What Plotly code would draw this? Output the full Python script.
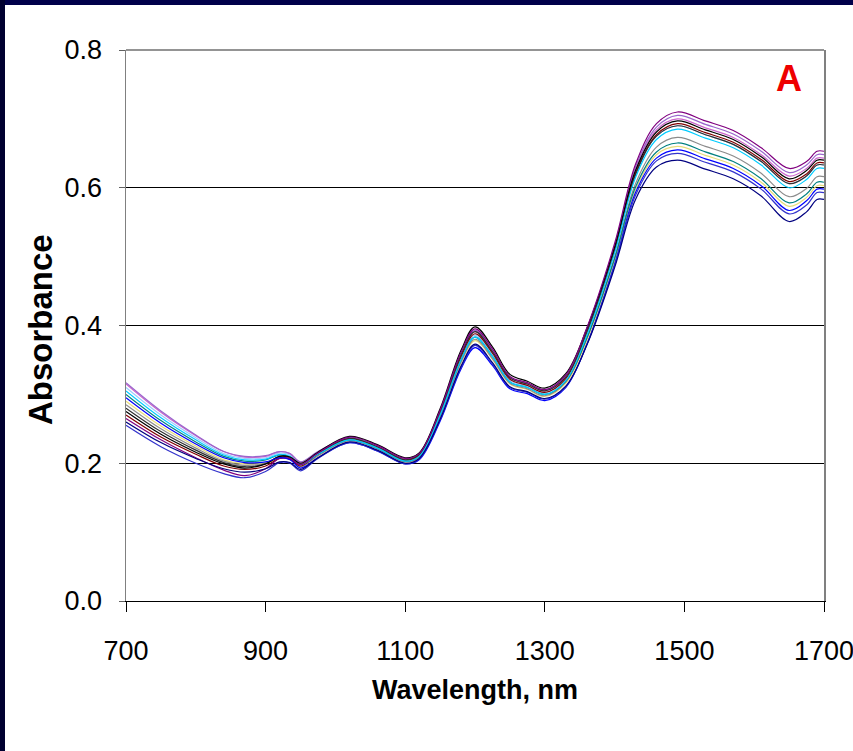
import plotly.graph_objects as go

wavelength = [700, 750, 800, 840, 870, 900, 920, 935, 950, 975, 1020, 1060, 1100, 1120, 1150,
              1180, 1200, 1225, 1250, 1275, 1300, 1330, 1360, 1400, 1430, 1460, 1490, 1530,
              1570, 1610, 1650, 1675, 1690, 1700]

s_purple = [0.265, 0.234, 0.208, 0.190, 0.182, 0.192, 0.207, 0.207, 0.198, 0.215, 0.238, 0.226, 0.207, 0.214, 0.277,
            0.361, 0.395, 0.366, 0.326, 0.317, 0.307, 0.328, 0.396, 0.519, 0.634, 0.693, 0.710, 0.697,
            0.683, 0.658, 0.628, 0.638, 0.653, 0.653]
s_black = [0.275, 0.242, 0.216, 0.199, 0.193, 0.199, 0.210, 0.209, 0.200, 0.216, 0.239, 0.227, 0.208, 0.215, 0.279,
           0.364, 0.398, 0.369, 0.329, 0.319, 0.309, 0.330, 0.395, 0.514, 0.625, 0.681, 0.697, 0.684,
           0.670, 0.645, 0.613, 0.625, 0.640, 0.640]
s_navy = [0.260, 0.230, 0.207, 0.192, 0.187, 0.192, 0.202, 0.201, 0.191, 0.208, 0.231, 0.219, 0.200, 0.207, 0.264,
          0.341, 0.373, 0.346, 0.311, 0.304, 0.294, 0.312, 0.371, 0.484, 0.583, 0.630, 0.640, 0.627,
          0.613, 0.588, 0.551, 0.565, 0.583, 0.583]
s_blue = [0.295, 0.258, 0.228, 0.208, 0.201, 0.202, 0.208, 0.205, 0.193, 0.208, 0.230, 0.218, 0.199, 0.205, 0.261,
          0.337, 0.368, 0.342, 0.308, 0.301, 0.291, 0.310, 0.372, 0.489, 0.593, 0.643, 0.655, 0.642,
          0.628, 0.603, 0.567, 0.581, 0.598, 0.598]
s_cyan = [0.305, 0.266, 0.234, 0.212, 0.205, 0.206, 0.213, 0.210, 0.198, 0.213, 0.234, 0.222, 0.203, 0.210, 0.270,
          0.350, 0.383, 0.355, 0.318, 0.310, 0.300, 0.320, 0.385, 0.505, 0.615, 0.670, 0.685, 0.672,
          0.658, 0.633, 0.600, 0.612, 0.628, 0.628]
s_yellow = [0.290, 0.254, 0.225, 0.205, 0.199, 0.201, 0.209, 0.207, 0.195, 0.211, 0.233, 0.221, 0.202, 0.208, 0.267,
            0.346, 0.378, 0.351, 0.315, 0.307, 0.297, 0.316, 0.378, 0.494, 0.597, 0.648, 0.660, 0.647,
            0.633, 0.608, 0.573, 0.586, 0.603, 0.603]
s_maroon = [0.270, 0.238, 0.213, 0.196, 0.191, 0.196, 0.207, 0.206, 0.196, 0.213, 0.236, 0.224, 0.205, 0.212, 0.273,
            0.355, 0.388, 0.360, 0.322, 0.313, 0.303, 0.323, 0.389, 0.510, 0.621, 0.677, 0.693, 0.680,
            0.666, 0.641, 0.609, 0.620, 0.636, 0.636]
s_teal = [0.300, 0.262, 0.231, 0.210, 0.203, 0.205, 0.212, 0.209, 0.198, 0.213, 0.234, 0.222, 0.203, 0.210, 0.270,
          0.350, 0.383, 0.355, 0.318, 0.310, 0.300, 0.319, 0.381, 0.497, 0.601, 0.652, 0.665, 0.652,
          0.638, 0.613, 0.578, 0.591, 0.608, 0.608]
s_pink = [0.315, 0.274, 0.240, 0.217, 0.209, 0.210, 0.217, 0.214, 0.201, 0.216, 0.236, 0.224, 0.205, 0.213, 0.275,
          0.357, 0.391, 0.362, 0.324, 0.315, 0.305, 0.326, 0.392, 0.513, 0.626, 0.684, 0.700, 0.687,
          0.673, 0.648, 0.617, 0.628, 0.643, 0.643]
s_gray = [0.285, 0.250, 0.222, 0.203, 0.197, 0.200, 0.208, 0.206, 0.195, 0.211, 0.233, 0.221, 0.202, 0.209, 0.268,
          0.347, 0.380, 0.352, 0.316, 0.308, 0.298, 0.318, 0.381, 0.499, 0.606, 0.659, 0.673, 0.660,
          0.646, 0.621, 0.587, 0.599, 0.616, 0.616]
s_lightblue = [0.310, 0.270, 0.237, 0.214, 0.207, 0.208, 0.215, 0.212, 0.199, 0.214, 0.235, 0.223, 0.204, 0.211, 0.272,
               0.353, 0.386, 0.358, 0.320, 0.312, 0.302, 0.322, 0.388, 0.508, 0.619, 0.675, 0.690, 0.677,
               0.663, 0.638, 0.606, 0.617, 0.633, 0.633]
s_darkblue = [0.255, 0.224, 0.200, 0.185, 0.179, 0.188, 0.201, 0.200, 0.189, 0.207, 0.230, 0.218, 0.199, 0.206, 0.263,
              0.339, 0.371, 0.344, 0.310, 0.303, 0.293, 0.311, 0.372, 0.487, 0.589, 0.639, 0.650, 0.637,
              0.623, 0.598, 0.562, 0.575, 0.593, 0.593]
s_violet = [0.317, 0.276, 0.241, 0.217, 0.210, 0.211, 0.217, 0.214, 0.202, 0.217, 0.237, 0.225, 0.206, 0.214, 0.276,
            0.359, 0.393, 0.364, 0.325, 0.316, 0.306, 0.327, 0.394, 0.516, 0.630, 0.688, 0.705, 0.692,
            0.678, 0.653, 0.622, 0.633, 0.648, 0.648]
s_darkgray = [0.280, 0.246, 0.219, 0.201, 0.195, 0.199, 0.210, 0.208, 0.198, 0.214, 0.236, 0.224, 0.205, 0.213, 0.275,
              0.357, 0.391, 0.362, 0.324, 0.315, 0.305, 0.325, 0.390, 0.509, 0.619, 0.675, 0.690, 0.677,
              0.663, 0.638, 0.606, 0.617, 0.633, 0.633]

series = [
    ("s_yellow", s_yellow, "#E8DC7A"),
    ("s_lightblue", s_lightblue, "#99CCFF"),
    ("s_pink", s_pink, "#CC66CC"),
    ("s_gray", s_gray, "#8C8C8C"),
    ("s_teal", s_teal, "#008080"),
    ("s_maroon", s_maroon, "#800000"),
    ("s_violet", s_violet, "#9966CC"),
    ("s_darkgray", s_darkgray, "#303030"),
    ("s_cyan", s_cyan, "#00CCFF"),
    ("s_black", s_black, "#000000"),
    ("s_purple", s_purple, "#800080"),
    ("s_blue", s_blue, "#0000FF"),
    ("s_darkblue", s_darkblue, "#3333CC"),
    ("s_navy", s_navy, "#000080"),
]

x_ticks = [700, 900, 1100, 1300, 1500, 1700]
y_ticks = [0.0, 0.2, 0.4, 0.6, 0.8]

fig = go.Figure()
for name, vals, col in series:
    fig.add_trace(go.Scatter(x=wavelength, y=vals, mode="lines", name=name,
                             line=dict(color=col, width=1.2, shape="spline", smoothing=1.0),
                             showlegend=False, hoverinfo="skip"))

L, R, T, B = 126, 29, 50, 150
W, H = 853, 751
pw, ph = W - L - R, H - T - B

def px(xp):
    return (xp - L) / pw

def py(yp):
    return (H - B - yp) / ph

sans = "Liberation Sans, Arial, sans-serif"

fig.update_layout(
    width=W, height=H,
    margin=dict(l=L, r=R, t=T, b=B, pad=0, autoexpand=False),
    paper_bgcolor="white", plot_bgcolor="white",
    xaxis=dict(range=[700, 1700], tickvals=x_ticks, ticktext=[str(v) for v in x_ticks],
               showgrid=False, zeroline=False, showline=True, linecolor="black", linewidth=1,
               ticks="outside", ticklen=10, tickcolor="black", tickwidth=1, automargin=False,
               tickfont=dict(family=sans, size=27, color="black"), ticklabelstandoff=16,
               ticklabeloverflow="allow"),
    yaxis=dict(range=[0, 0.8], tickvals=y_ticks, ticktext=["%.1f" % v for v in y_ticks],
               showgrid=True, gridcolor="black", gridwidth=1, zeroline=False, automargin=False,
               showline=True, linecolor="#808080", linewidth=1.5, mirror=True,
               ticks="outside", ticklen=6, tickcolor="#606060", tickwidth=1,
               tickfont=dict(family=sans, size=27, color="black"), ticklabelstandoff=11,
               ticklabeloverflow="allow"),
    shapes=[
        dict(type="line", xref="paper", yref="paper", x0=0, x1=1, y0=1, y1=1,
             line=dict(color="#707070", width=1.5)),
        dict(type="rect", xref="paper", yref="paper", x0=px(0), x1=px(W), y0=py(0), y1=py(5),
             fillcolor="#00004a", line=dict(width=0), layer="above"),
        dict(type="rect", xref="paper", yref="paper", x0=px(0), x1=px(5), y0=py(H), y1=py(0),
             fillcolor="#000030", line=dict(width=0), layer="above"),
    ],
    annotations=[
        dict(text="<b>Wavelength, nm</b>", xref="paper", yref="paper", x=px(475), y=py(690),
             xanchor="center", yanchor="middle", showarrow=False,
             font=dict(family=sans, size=27, color="black")),
        dict(text="<b>Absorbance</b>", xref="paper", yref="paper", x=px(40), y=py(330),
             xanchor="center", yanchor="middle", showarrow=False, textangle=-90,
             font=dict(family=sans, size=33, color="black")),
        dict(text="<b>A</b>", xref="paper", yref="paper", x=px(789), y=py(78),
             xanchor="center", yanchor="middle", showarrow=False,
             font=dict(family=sans, size=36, color="#EE0000")),
    ],
)

fig.write_html("out.html", config={"displayModeBar": False, "staticPlot": True},
               post_script="document.body.style.margin='0px';document.body.style.padding='0px';"
                           "document.body.style.overflow='hidden';")
